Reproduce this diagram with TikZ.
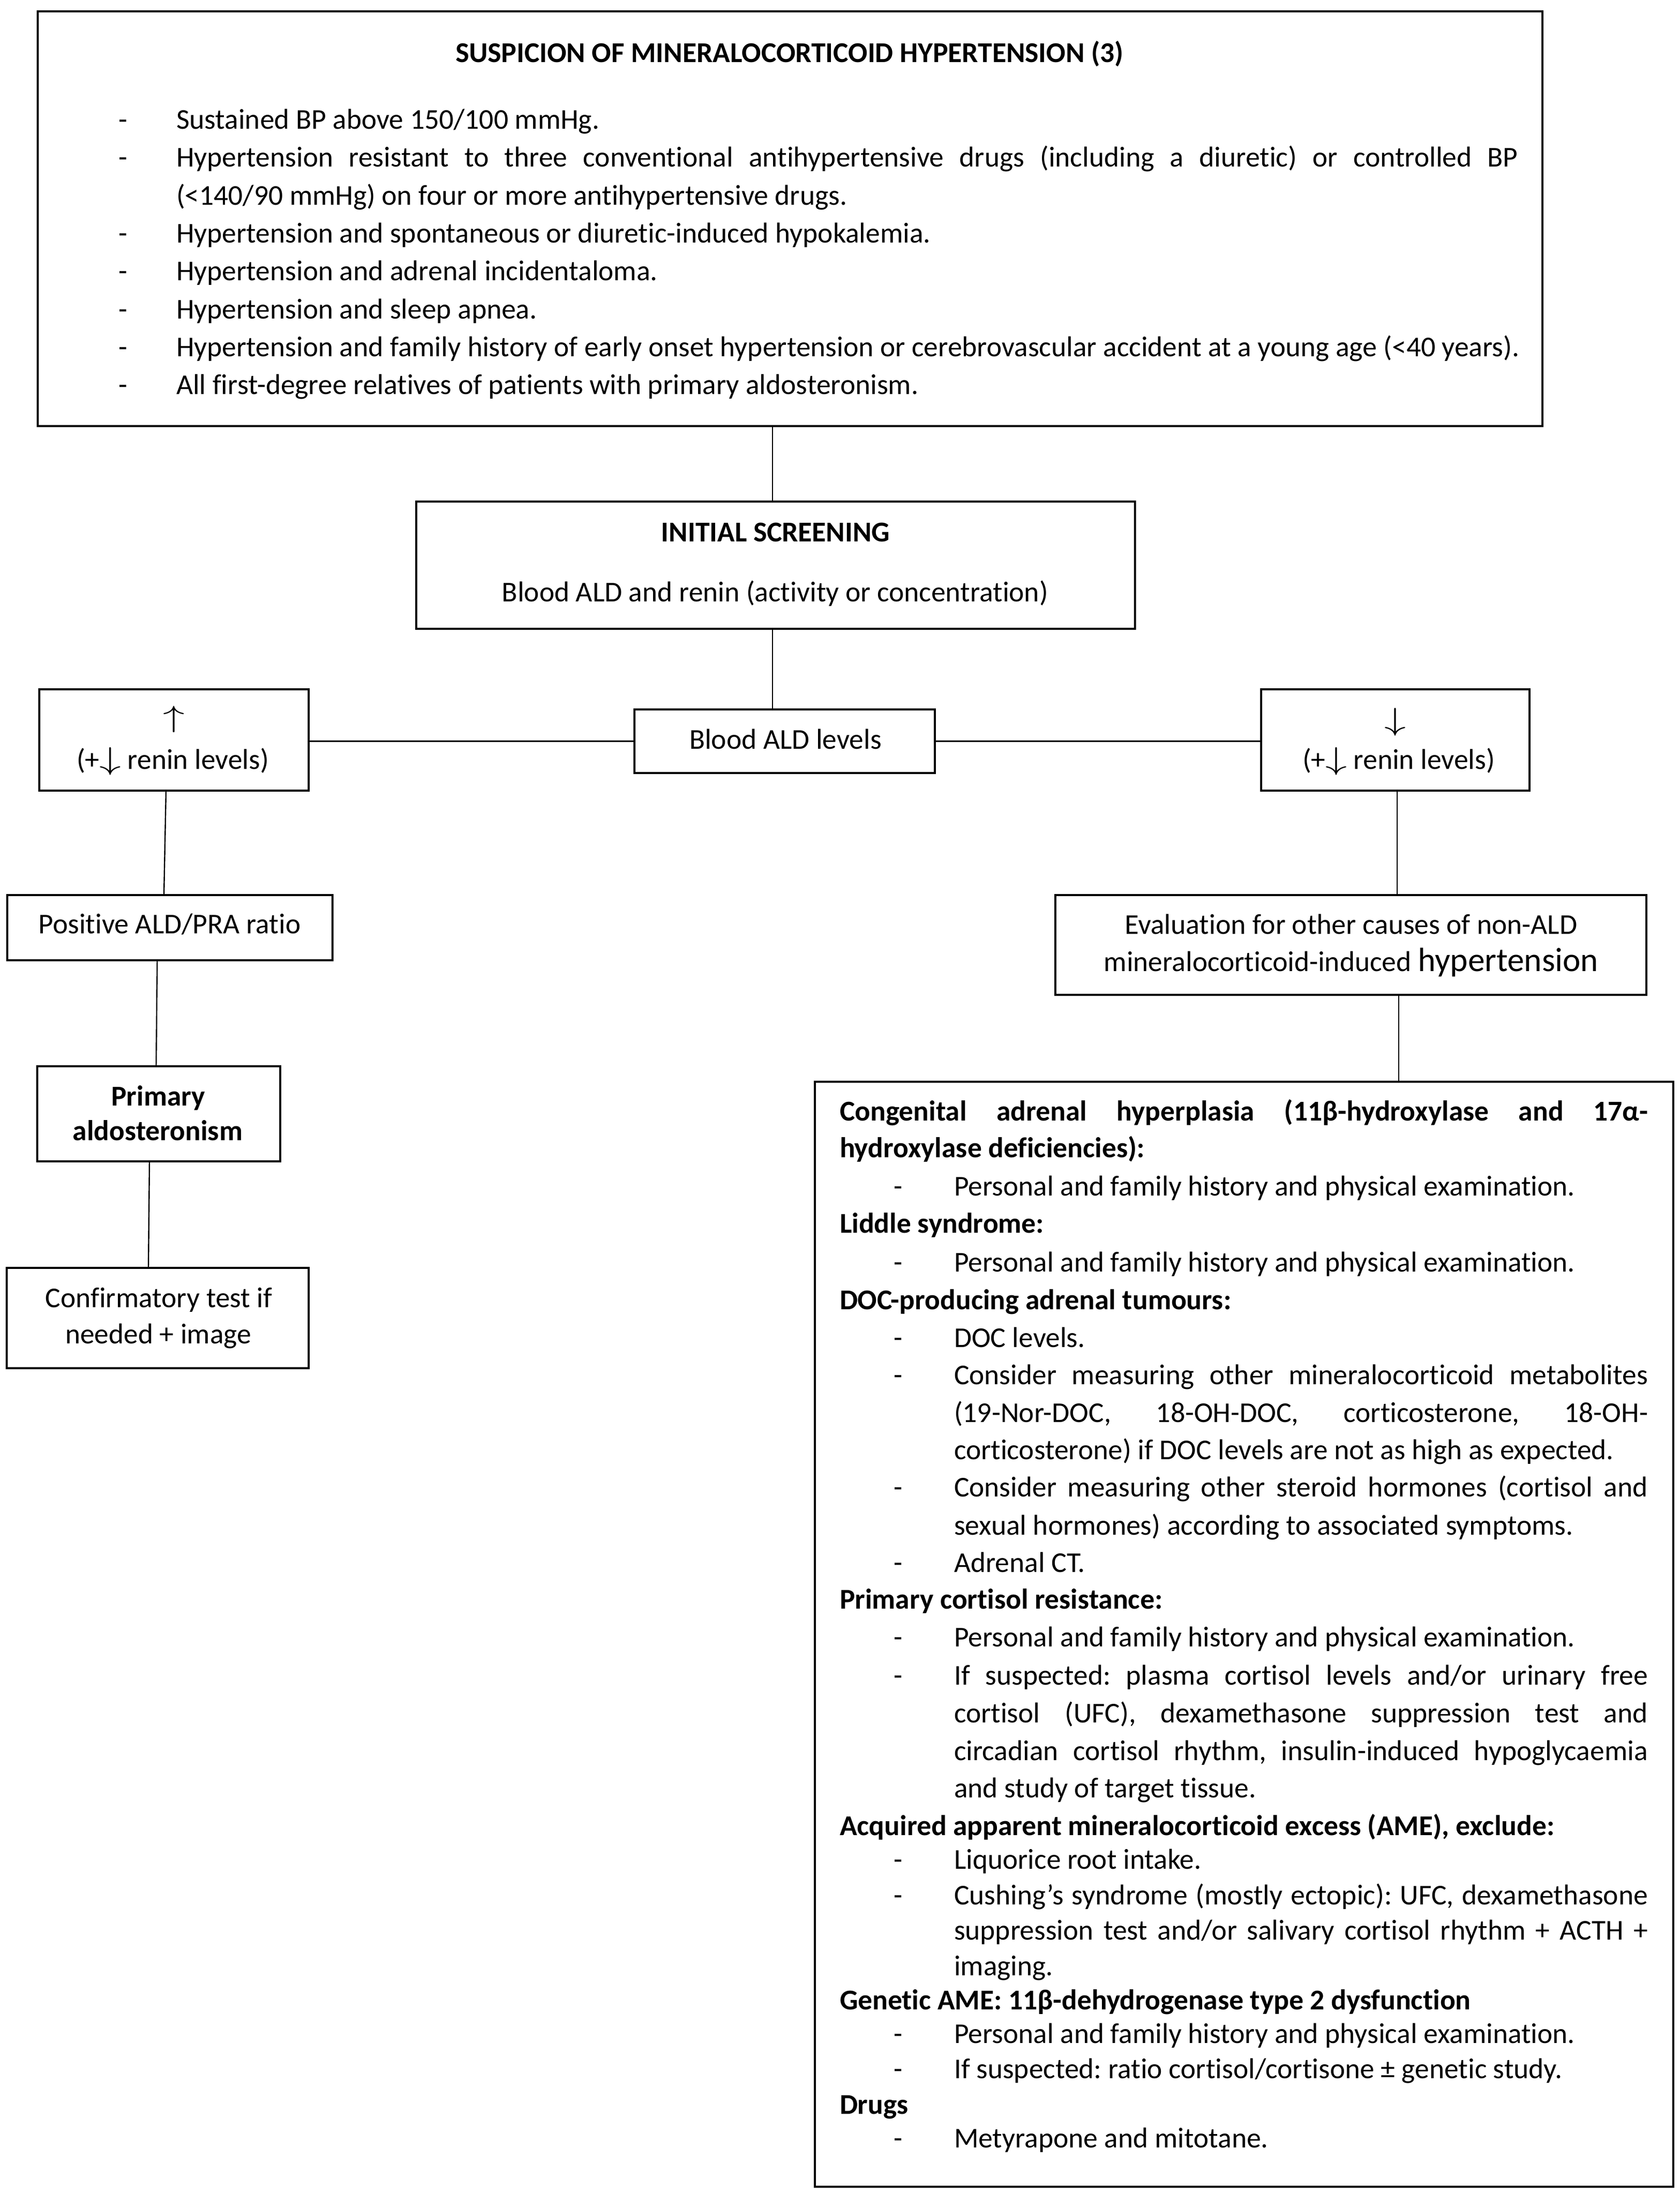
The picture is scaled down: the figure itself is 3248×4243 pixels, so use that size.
\documentclass[tikz,border=0pt]{standalone}
\usepackage{fontspec}
\setmainfont{Carlito}[Ligatures={TeX,NoCommon}]
\usetikzlibrary{calc}
\frenchspacing
\newcommand\fs{\fontsize{13.87}{16}\selectfont\frenchspacing}
\newcommand\jl[2]{\makebox[#1][s]{#2}}
\newcommand\upar{\scalebox{1.45}[1.0]{$\uparrow$}}
\newcommand\dnar{\scalebox{1.45}[1.05]{$\downarrow$}}
\tikzset{
  box/.style={draw, line width=0.8pt, inner sep=0pt, outer sep=0pt},
  conn/.style={line width=0.6pt},
  txt/.style={inner sep=0pt, outer sep=0pt, anchor=base west, font=\fs},
  btxt/.style={txt, font=\fs\bfseries},
  ctxt/.style={inner sep=0pt, outer sep=0pt, anchor=base, font=\fs},
  cbtxt/.style={ctxt, font=\fs\bfseries},
  bul/.style={inner sep=0pt, outer sep=0pt, anchor=base, font=\fs},
}
\begin{document}
\begin{tikzpicture}[x=0.25pt, y=-0.25pt]
\useasboundingbox (0,0) rectangle (3248,4243);
% ---------- boxes ----------
\node[box, minimum width=2910*0.25pt, minimum height=802*0.25pt] (top) at (1528,423) {};
\node[box, minimum width=1390*0.25pt, minimum height=246*0.25pt] (init) at (1500,1093) {};
\node[box, minimum width=581*0.25pt, minimum height=123*0.25pt] (ald) at (1517.5,1433.5) {};
\node[box, minimum width=521*0.25pt, minimum height=196*0.25pt] (up) at (336.5,1431) {};
\node[box, minimum width=519*0.25pt, minimum height=196*0.25pt] (down) at (2698.5,1431) {};
\node[box, minimum width=629*0.25pt, minimum height=126*0.25pt] (pos) at (328.5,1794) {};
\node[box, minimum width=1143*0.25pt, minimum height=193*0.25pt] (eval) at (2612.5,1827.5) {};
\node[box, minimum width=470*0.25pt, minimum height=184*0.25pt] (prim) at (307,2154) {};
\node[box, minimum width=584*0.25pt, minimum height=194*0.25pt] (conf) at (305,2549) {};
\node[box, minimum width=1660*0.25pt, minimum height=2137*0.25pt] (big) at (2406,3160.5) {};
% ---------- connectors ----------
\draw[conn] ($(top.south)+(-34,0)$) -- ($(init.north)+(-6,0)$);
\draw[conn] ($(init.south)+(-6,0)$) -- ($(ald.north)+(-23.5,0)$);
\draw[conn] (up.east |- ald.west) -- (ald.west);
\draw[conn] (ald.east) -- (ald.east -| down.west);
\draw[conn] ($(up.south)+(-15.5,0)$) -- ($(pos.north)+(-11.5,0)$);
\draw[conn] ($(pos.south)+(-24.5,0)$) -- ($(prim.north)+(-5,0)$);
\draw[conn] ($(prim.south)+(-18,0)$) -- ($(conf.north)+(-18,0)$);
\draw[conn] ($(down.south)+(3.5,0)$) -- ($(eval.north)+(89.5,0)$);
\draw[conn] ($(eval.south)+(92.5,0)$) -- ($(big.north)+(299,0)$);
% ---------- top box text ----------
\node[cbtxt] (tt) at (1527,120) {SUSPICION OF MINERALOCORTICOID HYPERTENSION (3)};
\node[bul] (td1) at (238,249) {-};
\node[txt] (t1) at (341,249) {Sustained BP above 150/100 mmHg.};
\node[bul] (td2) at (238,322) {-};
\node[txt] (t2) at (341,322) {\jl{648.75pt}{Hypertension resistant to three conventional antihypertensive drugs (including a diuretic) or controlled BP}};
\node[txt] (t3) at (341,396) {(<140/90 mmHg) on four or more antihypertensive drugs.};
\node[bul] (td4) at (238,469) {-};
\node[txt] (t4) at (341,469) {Hypertension and spontaneous or diuretic-induced hypokalemia.};
\node[bul] (td5) at (238,542) {-};
\node[txt] (t5) at (341,542) {Hypertension and adrenal incidentaloma.};
\node[bul] (td6) at (238,616) {-};
\node[txt] (t6) at (341,616) {Hypertension and sleep apnea.};
\node[bul] (td7) at (238,689) {-};
\node[txt] (t7) at (341,689) {Hypertension and family history of early onset hypertension or cerebrovascular accident at a young age (<40 years).};
\node[bul] (td8) at (238,762) {-};
\node[txt] (t8) at (341,762) {All first-degree relatives of patients with primary aldosteronism.};
% ---------- middle boxes text ----------
\node[cbtxt] (i1) at (1500,1047) {INITIAL SCREENING};
\node[ctxt] (i2) at (1499,1163) {Blood ALD and renin (activity or concentration)};
\node[ctxt] (a1) at (1519,1448) {Blood ALD levels};
\node[inner sep=0pt, font=\fs] (u1) at (336,1391) {\upar};
\node[ctxt] (u2) at (334,1487) {(+\dnar\ renin levels)};
\node[inner sep=0pt, font=\fs] (d1) at (2698,1396) {\dnar};
\node[ctxt] (d2) at (2705,1487) {(+\dnar\ renin levels)};
\node[ctxt] (p1) at (328,1805) {Positive ALD/PRA ratio};
\node[ctxt] (e1) at (2613,1806) {Evaluation for other causes of non-ALD};
\node[ctxt] (e2) at (2613,1878) {mineralocorticoid-induced {\fontsize{16.3}{19}\selectfont hypertension}};
\node[cbtxt] (pa1) at (306,2138) {Primary};
\node[cbtxt] (pa2) at (305,2205) {aldosteronism};
\node[ctxt] (c1) at (307,2528) {Confirmatory test if};
\node[ctxt] (c2) at (306,2598) {needed + image};
% ---------- big box text ----------
\node[btxt] (b1) at (1624,2167) {\jl{390.75pt}{Congenital adrenal hyperplasia (11β-hydroxylase and 17α-}};
\node[btxt] (b2) at (1624,2238) {hydroxylase deficiencies):};
\node[bul] (bd3) at (1737,2312) {-};
\node[txt] (b3) at (1845,2312) {Personal and family history and physical examination.};
\node[btxt] (b4) at (1624,2384) {Liddle syndrome:};
\node[bul] (bd5) at (1737,2459) {-};
\node[txt] (b5) at (1845,2459) {Personal and family history and physical examination.};
\node[btxt] (b6) at (1624,2532) {DOC-producing adrenal tumours:};
\node[bul] (bd7) at (1737,2605) {-};
\node[txt] (b7) at (1845,2605) {DOC levels.};
\node[bul] (bd8) at (1737,2677) {-};
\node[txt] (b8) at (1845,2677) {\jl{335.5pt}{Consider measuring other mineralocorticoid metabolites}};
\node[txt] (b9) at (1845,2750) {\jl{335.5pt}{(19-Nor-DOC, 18-OH-DOC, corticosterone, 18-OH-}};
\node[txt] (b10) at (1845,2822) {corticosterone) if DOC levels are not as high as expected.};
\node[bul] (bd11) at (1737,2894) {-};
\node[txt] (b11) at (1845,2894) {\jl{335.5pt}{Consider measuring other steroid hormones (cortisol and}};
\node[txt] (b12) at (1845,2968) {sexual hormones) according to associated symptoms.};
\node[bul] (bd13) at (1737,3040) {-};
\node[txt] (b13) at (1845,3040) {Adrenal CT.};
\node[btxt] (b14) at (1624,3111) {Primary cortisol resistance:};
\node[bul] (bd15) at (1737,3184) {-};
\node[txt] (b15) at (1845,3184) {Personal and family history and physical examination.};
\node[bul] (bd16) at (1737,3258) {-};
\node[txt] (b16) at (1845,3258) {\jl{335.5pt}{If suspected: plasma cortisol levels and/or urinary free}};
\node[txt] (b17) at (1845,3331) {\jl{335.5pt}{cortisol (UFC), dexamethasone suppression test and}};
\node[txt] (b18) at (1845,3404) {\jl{335.5pt}{circadian cortisol rhythm, insulin-induced hypoglycaemia}};
\node[txt] (b19) at (1845,3476) {and study of target tissue.};
\node[btxt] (b20) at (1624,3549) {Acquired apparent mineralocorticoid excess (AME), exclude:};
\node[bul] (bd21) at (1737,3614) {-};
\node[txt] (b21) at (1845,3614) {Liquorice root intake.};
\node[bul] (bd22) at (1737,3683) {-};
\node[txt] (b22) at (1845,3683) {\jl{335.5pt}{Cushing’s syndrome (mostly ectopic): UFC, dexamethasone}};
\node[txt] (b23) at (1845,3751) {\jl{335.5pt}{suppression test and/or salivary cortisol rhythm + ACTH +}};
\node[txt] (b24) at (1845,3820) {imaging.};
\node[btxt] (b25) at (1624,3886) {Genetic AME: 11β-dehydrogenase type 2 dysfunction};
\node[bul] (bd26) at (1737,3951) {-};
\node[txt] (b26) at (1845,3951) {Personal and family history and physical examination.};
\node[bul] (bd27) at (1737,4019) {-};
\node[txt] (b27) at (1845,4019) {If suspected: ratio cortisol/cortisone ± genetic study.};
\node[btxt] (b28) at (1624,4088) {Drugs};
\node[bul] (bd29) at (1737,4153) {-};
\node[txt] (b29) at (1845,4153) {Metyrapone and mitotane.};
\end{tikzpicture}
\end{document}
